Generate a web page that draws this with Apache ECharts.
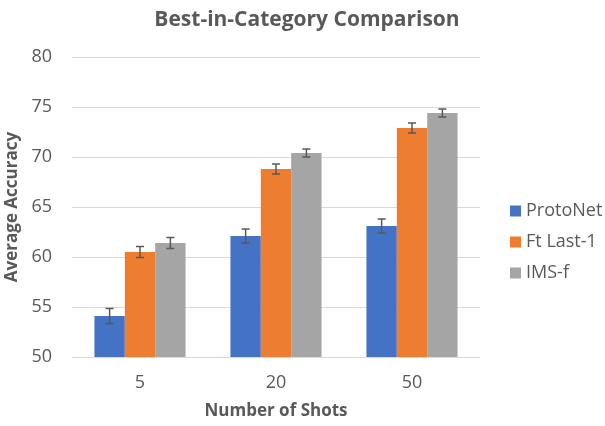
<!DOCTYPE html>
<html>
<head>
<meta charset="utf-8">
<script src="https://cdn.jsdelivr.net/npm/echarts@6/dist/echarts.min.js"></script>
<style>
  html, body { margin: 0; padding: 0; background: #fff; }
  #chart { width: 605px; height: 426px; }
</style>
</head>
<body>
<div id="chart"></div>
<script>
// 数据
const shots = ['5', '20', '50'];
const seriesNames = ['ProtoNet', 'Ft Last-1', 'IMS-f'];
const protoNet = [54.1, 62.1, 63.1];
const ftLast1 = [60.5, 68.8, 72.9];
const imsF = [61.4, 70.4, 74.4];
const protoNetErr = [0.75, 0.7, 0.7];
const ftLast1Err = [0.55, 0.5, 0.5];
const imsFErr = [0.55, 0.4, 0.4];

const colors = ['#4472C4', '#ED7D31', '#A5A5A5'];
const textColor = '#595959';
const font = 'Open Sans';
const catGap = 0.33;

const values = [protoNet, ftLast1, imsF];
const errs = [protoNetErr, ftLast1Err, imsFErr];

// 误差线数据：[类目索引, 下限, 上限, 系列索引]
const errData = [];
values.forEach((vals, s) => {
    vals.forEach((v, i) => {
        errData.push([i, v - errs[s][i], v + errs[s][i], s]);
    });
});

function renderErr(params, api) {
    const idx = api.value(0);
    const s = api.value(3);
    const band = api.size([1, 0])[0];
    const barW = band * (1 - catGap) / 3;
    const lo = api.coord([idx, api.value(1)]);
    const hi = api.coord([idx, api.value(2)]);
    const x = lo[0] + (s - 1) * barW;
    const cap = 4;
    const style = { stroke: '#595959', lineWidth: 1.5 };
    return {
        type: 'group',
        children: [
            { type: 'line', shape: { x1: x, y1: hi[1], x2: x, y2: lo[1] }, style: style },
            { type: 'line', shape: { x1: x - cap, y1: hi[1], x2: x + cap, y2: hi[1] }, style: style },
            { type: 'line', shape: { x1: x - cap, y1: lo[1], x2: x + cap, y2: lo[1] }, style: style }
        ]
    };
}

const chart = echarts.init(document.getElementById('chart'));
chart.setOption({
    animation: false,
    title: {
        text: 'Best-in-Category Comparison',
        left: 302,
        textAlign: 'center',
        top: 5,
        textStyle: { color: textColor, fontFamily: font, fontWeight: 'bold', fontSize: 21 }
    },
    legend: {
        data: seriesNames,
        orient: 'vertical',
        left: 505,
        top: 197,
        itemWidth: 11,
        itemHeight: 11,
        itemGap: 13,
        icon: 'rect',
        textStyle: { color: textColor, fontFamily: font, fontSize: 18 }
    },
    grid: { left: 72, right: 125, top: 57, bottom: 69, outerBoundsMode: 'none' },
    xAxis: {
        type: 'category',
        data: shots,
        name: 'Number of Shots',
        nameLocation: 'middle',
        nameGap: 46,
        nameTextStyle: { color: textColor, fontFamily: font, fontWeight: 'bold', fontSize: 17 },
        axisLine: { lineStyle: { color: '#d9d9d9' } },
        axisTick: { show: false },
        axisLabel: { color: textColor, fontFamily: font, fontSize: 18, margin: 17 }
    },
    yAxis: {
        type: 'value',
        min: 50,
        max: 80,
        interval: 5,
        name: 'Average Accuracy',
        nameLocation: 'middle',
        nameGap: 47,
        nameTextStyle: { color: textColor, fontFamily: font, fontWeight: 'bold', fontSize: 17 },
        axisLine: { show: false },
        axisTick: { show: false },
        splitLine: { lineStyle: { color: '#d9d9d9' } },
        axisLabel: { color: textColor, fontFamily: font, fontSize: 18, margin: 20 }
    },
    series: [
        ...seriesNames.map((name, s) => ({
            name: name,
            type: 'bar',
            data: values[s],
            barGap: '0%',
            barCategoryGap: (catGap * 100) + '%',
            itemStyle: { color: colors[s] }
        })),
        {
            type: 'custom',
            renderItem: renderErr,
            data: errData,
            encode: { x: 0, y: [1, 2] },
            z: 10,
            silent: true
        }
    ]
});
</script>
</body>
</html>
